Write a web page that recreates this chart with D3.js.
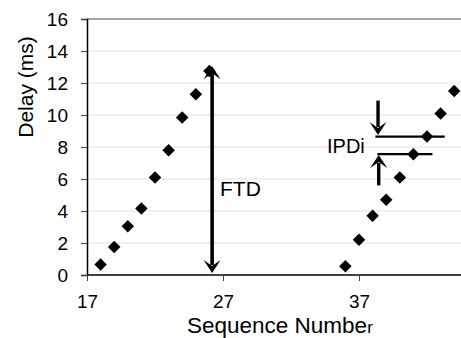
<!DOCTYPE html>
<html>
<head>
<meta charset="utf-8">
<script src="https://cdn.jsdelivr.net/npm/d3@7"></script>
<style>
  body { margin: 0; background: #fff; }
  text { font-family: "Liberation Sans", Arial, sans-serif; fill: #000; }
</style>
</head>
<body>
<svg id="chart"></svg>
<script>
// delay per packet, two bursts
var seqA = [18, 19, 20, 21, 22, 23, 24, 25, 26];
var delayA = [0.65, 1.75, 3.05, 4.15, 6.1, 7.8, 9.85, 11.3, 12.75];
var seqB = [36, 37, 38, 39, 40, 41, 42, 43, 44];
var delayB = [0.55, 2.2, 3.7, 4.7, 6.1, 7.55, 8.65, 10.1, 11.5];
var yTicks = [0, 2, 4, 6, 8, 10, 12, 14, 16];
var xTicks = [17, 27, 37];

var width = 461, height = 338;
var svg = d3.select("#chart").attr("width", width).attr("height", height);

var x = d3.scaleLinear().domain([17, 47]).range([87, 495]);
var y = d3.scaleLinear().domain([0, 16]).range([275, 19]);

// gridlines
svg.append("g")
  .selectAll("line")
  .data(yTicks.filter(d => d > 0 && d < 16))
  .enter()
  .append("line")
  .attr("x1", x(17)).attr("x2", width)
  .attr("y1", d => y(d)).attr("y2", d => y(d))
  .attr("stroke", "#e2e2e2").attr("stroke-width", 1.2);

// top border
svg.append("line")
  .attr("x1", x(17)).attr("x2", width)
  .attr("y1", y(16)).attr("y2", y(16))
  .attr("stroke", "#888").attr("stroke-width", 1.5);

var yAxis = d3.axisLeft(y).tickValues(yTicks).tickSize(6).tickPadding(13);
var gy = svg.append("g").attr("transform", "translate(" + x(17) + ",0)").call(yAxis);
gy.select(".domain").attr("stroke", "#000").attr("stroke-width", 1.5);
gy.selectAll(".tick line").attr("stroke", "#444");
gy.selectAll(".tick text").attr("font-size", 19).attr("font-family", "Liberation Sans, Arial, sans-serif");

var xAxis = d3.axisBottom(x).tickValues(xTicks).tickFormat(d3.format("d")).tickSize(6).tickPadding(14);
var gx = svg.append("g").attr("transform", "translate(0," + y(0) + ")").call(xAxis);
gx.select(".domain").attr("d", "M" + x(17) + ",0H" + width).attr("stroke", "#000").attr("stroke-width", 1.5);
gx.selectAll(".tick line").attr("stroke", "#444");
gx.selectAll(".tick text").attr("font-size", 19).attr("font-family", "Liberation Sans, Arial, sans-serif");

// axis titles
svg.append("text")
  .attr("transform", "translate(33,87)rotate(-90)")
  .attr("text-anchor", "middle")
  .attr("font-size", 21)
  .text("Delay (ms)");

var xt = svg.append("text")
  .attr("x", 187).attr("y", 333)
  .attr("font-size", 22.5);
xt.append("tspan").text("Sequence Numbe");
xt.append("tspan").attr("font-size", 17).text("r");

// points
var diamond = d3.symbol().type(d3.symbolSquare).size(78);
var pts = seqA.map((s, i) => [s, delayA[i]]).concat(seqB.map((s, i) => [s, delayB[i]]));
svg.append("g")
  .selectAll("path")
  .data(pts)
  .enter()
  .append("path")
  .attr("d", diamond)
  .attr("transform", d => "translate(" + x(d[0]) + "," + y(d[1]) + ")rotate(45)")
  .attr("fill", "#000");

// arrows
function head(px, py, dir) {
  // dir: 1 = pointing down, -1 = pointing up
  var w = 8.5, l = 13, n = 7;
  return "M" + px + "," + py +
    "L" + (px - w) + "," + (py - dir * l) +
    "L" + px + "," + (py - dir * n) +
    "L" + (px + w) + "," + (py - dir * l) + "Z";
}
function arrow(x0, yFrom, yTo, sw) {
  var py = y(yTo), dir = py > y(yFrom) ? 1 : -1;
  svg.append("line")
    .attr("x1", x(x0)).attr("x2", x(x0))
    .attr("y1", y(yFrom)).attr("y2", py - dir * 8)
    .attr("stroke", "#000").attr("stroke-width", sw);
  svg.append("path").attr("d", head(x(x0), py, dir)).attr("fill", "#000");
}

// FTD
var ftdX = 26.2;
arrow(ftdX, 6.5, 13.05, 3.6);
arrow(ftdX, 6.5, 0.12, 3.6);
svg.append("text").attr("x", 220).attr("y", 196).attr("font-size", 21).text("FTD");

// IPDi
var hiY = delayB[6], loY = delayB[5];
svg.append("line")
  .attr("x1", x(38.2)).attr("x2", x(43.3))
  .attr("y1", y(hiY)).attr("y2", y(hiY))
  .attr("stroke", "#000").attr("stroke-width", 2.2);
svg.append("line")
  .attr("x1", x(38.35)).attr("x2", x(42.4))
  .attr("y1", y(loY)).attr("y2", y(loY))
  .attr("stroke", "#000").attr("stroke-width", 2.2);
arrow(38.4, 10.9, hiY + 0.1, 3.4);
arrow(38.45, 5.6, loY - 0.05, 3.4);
svg.append("text").attr("x", 327).attr("y", 153).attr("font-size", 20).text("IPDi");
</script>
</body>
</html>
